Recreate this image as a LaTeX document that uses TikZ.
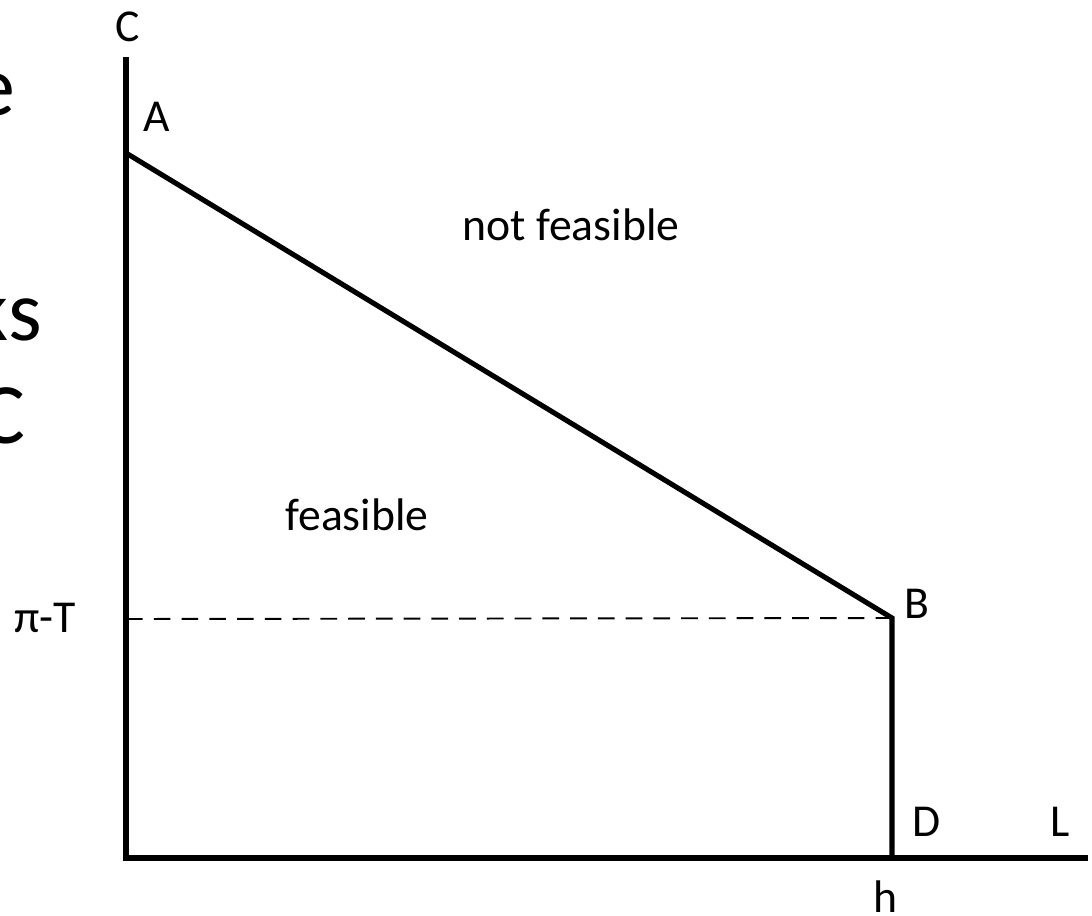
\documentclass[tikz,border=0pt]{standalone}
\usepackage{fontspec}
\setmainfont{Carlito}
\begin{document}
\begin{tikzpicture}[x=0.02cm,y=-0.02cm,every node/.style={font=\fontsize{26}{30}\selectfont,inner sep=0pt},
  axisline/.style={line width=2.9pt},
  bigtext/.style={font=\fontsize{49}{56}\selectfont,anchor=base east}]
  \clip (0,0) rectangle (1092,916);
  \useasboundingbox (0,0) rectangle (1092,916);
  % clipped slide text at the left edge
  \node[bigtext] (frage) at (16,115) {e};
  \node[bigtext] (fragks) at (42,340) {ks};
  \node[bigtext] (fragc) at (26,443) {C};
  % axes and frontier
  \coordinate (O) at (126,858);
  \coordinate (ytop) at (126,60);
  \coordinate (xend) at (1085,858);
  \coordinate (A) at (126,153);
  \coordinate (B) at (892,618);
  \coordinate (D) at (892,858);
  \coordinate (piT) at (126,619);
  \draw[axisline,line cap=rect] (ytop)--(O)--(xend);
  \draw[axisline,line join=miter] (A)--(B)--(D);
  \draw[line width=1.1pt,dash pattern=on 9.5pt off 6.3pt] (piT)--(B);
  % labels
  \node (labC) at (128,27) {C};
  \node (labA) at (157,117) {A};
  \node (labB) at (917,604) {B};
  \node (labD) at (927,822) {D};
  \node (labL) at (1060,822) {L};
  \node (labh) at (885,897) {h};
  \node (labpiT) at (45,618) {π-T};
  \node (nfeas) at (571,225) {not feasible};
  \node (feas) at (357,515) {feasible};
\end{tikzpicture}
\end{document}
